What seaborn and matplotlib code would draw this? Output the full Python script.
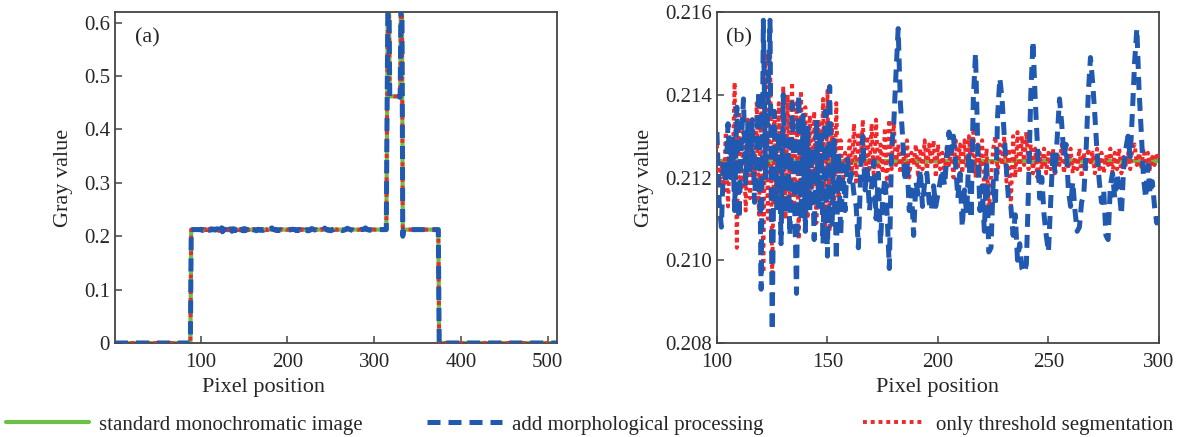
import numpy as np
import pandas as pd
import matplotlib
matplotlib.use("Agg")
import matplotlib.pyplot as plt
import seaborn as sns
from matplotlib.lines import Line2D
from matplotlib.ticker import FuncFormatter

# ---------------- data ----------------
labels = ["standard monochromatic image", "add morphological processing", "only threshold segmentation"]
colors = ["#6cc04a", "#2158b0", "#f0282a"]

# detail region, pixel 100..300
x_detail = np.arange(100, 301)
standard_detail = [0.2124] * 201
morph_detail = [
    0.2131, 0.2114, 0.2108, 0.2124, 0.2119, 0.2133, 0.2120, 0.2130, 0.2112, 0.2137,
    0.2110, 0.2128, 0.2139, 0.2118, 0.2133, 0.2121, 0.2134, 0.2114, 0.2128, 0.2141,
    0.2093, 0.2158, 0.2120, 0.2137, 0.2158, 0.2083, 0.2136, 0.2112, 0.2131, 0.2104,
    0.2140, 0.2111, 0.2129, 0.2106, 0.2138, 0.2118, 0.2092, 0.2140, 0.2110, 0.2135,
    0.2107, 0.2132, 0.2112, 0.2127, 0.2105, 0.2134, 0.2113, 0.2131, 0.2104, 0.2136,
    0.2101, 0.2142, 0.2108, 0.2129, 0.2100, 0.2126, 0.2106, 0.2123, 0.2112, 0.2125,
    0.2119, 0.2121, 0.2116, 0.2113, 0.2103, 0.2121, 0.2130, 0.2117, 0.2122, 0.2112,
    0.2118, 0.2124, 0.2110, 0.2121, 0.2104, 0.2115, 0.2120, 0.2111, 0.2098, 0.2127,
    0.2133, 0.2145, 0.2156, 0.2138, 0.2130, 0.2119, 0.2124, 0.2112, 0.2117, 0.2106,
    0.2119, 0.2116, 0.2122, 0.2113, 0.2119, 0.2121, 0.2114, 0.2112, 0.2118, 0.2113,
    0.2116, 0.2119, 0.2122, 0.2118, 0.2125, 0.2131, 0.2126, 0.2130, 0.2123, 0.2115,
    0.2121, 0.2108, 0.2117, 0.2111, 0.2126, 0.2110, 0.2139, 0.2150, 0.2128, 0.2112,
    0.2118, 0.2107, 0.2124, 0.2102, 0.2103, 0.2119, 0.2113, 0.2135, 0.2144, 0.2139,
    0.2130, 0.2122, 0.2114, 0.2113, 0.2106, 0.2111, 0.2100, 0.2104, 0.2098, 0.2097,
    0.2099, 0.2118, 0.2140, 0.2153, 0.2139, 0.2128, 0.2115, 0.2120, 0.2111, 0.2106,
    0.2102, 0.2114, 0.2126, 0.2121, 0.2130, 0.2139, 0.2133, 0.2125, 0.2128, 0.2117,
    0.2113, 0.2119, 0.2112, 0.2107, 0.2108, 0.2114, 0.2116, 0.2126, 0.2140, 0.2149,
    0.2143, 0.2135, 0.2126, 0.2119, 0.2114, 0.2117, 0.2106, 0.2105, 0.2118, 0.2121,
    0.2115, 0.2121, 0.2117, 0.2111, 0.2122, 0.2127, 0.2130, 0.2125, 0.2136, 0.2148,
    0.2156, 0.2141, 0.2131, 0.2120, 0.2115, 0.2123, 0.2116, 0.2119, 0.2113, 0.2109,
    0.2112,
]
thresh_detail = [
    0.2128, 0.2118, 0.2124, 0.2116, 0.2131, 0.2113, 0.2129, 0.2120, 0.2143, 0.2103,
    0.2136, 0.2117, 0.2131, 0.2112, 0.2134, 0.2115, 0.2128, 0.2119, 0.2138, 0.2111,
    0.2140, 0.2097, 0.2150, 0.2110, 0.2155, 0.2094, 0.2135, 0.2113, 0.2138, 0.2107,
    0.2142, 0.2110, 0.2140, 0.2114, 0.2143, 0.2112, 0.2138, 0.2105, 0.2141, 0.2116,
    0.2137, 0.2110, 0.2135, 0.2113, 0.2136, 0.2109, 0.2134, 0.2115, 0.2139, 0.2108,
    0.2141, 0.2107, 0.2133, 0.2112, 0.2138, 0.2113, 0.2129, 0.2118, 0.2126, 0.2121,
    0.2129, 0.2121, 0.2133, 0.2119, 0.2131, 0.2123, 0.2134, 0.2118, 0.2130, 0.2122,
    0.2133, 0.2119, 0.2134, 0.2120, 0.2128, 0.2121, 0.2132, 0.2117, 0.2134, 0.2122,
    0.2133, 0.2123, 0.2128, 0.2121, 0.2127, 0.2122, 0.2129, 0.2120, 0.2126, 0.2123,
    0.2128, 0.2120, 0.2127, 0.2122, 0.2129, 0.2121, 0.2128, 0.2123, 0.2129, 0.2120,
    0.2128, 0.2122, 0.2126, 0.2121, 0.2128, 0.2123, 0.2127, 0.2120, 0.2129, 0.2122,
    0.2128, 0.2121, 0.2129, 0.2122, 0.2130, 0.2121, 0.2131, 0.2120, 0.2128, 0.2122,
    0.2129, 0.2116, 0.2127, 0.2111, 0.2120, 0.2127, 0.2130, 0.2121, 0.2128, 0.2123,
    0.2130, 0.2119, 0.2127, 0.2113, 0.2130, 0.2120, 0.2131, 0.2121, 0.2130, 0.2123,
    0.2131, 0.2122, 0.2128, 0.2121, 0.2127, 0.2120, 0.2126, 0.2122, 0.2127, 0.2121,
    0.2126, 0.2122, 0.2127, 0.2121, 0.2126, 0.2123, 0.2128, 0.2121, 0.2126, 0.2122,
    0.2127, 0.2121, 0.2125, 0.2122, 0.2127, 0.2120, 0.2126, 0.2122, 0.2127, 0.2123,
    0.2126, 0.2121, 0.2127, 0.2122, 0.2126, 0.2121, 0.2125, 0.2123, 0.2127, 0.2121,
    0.2126, 0.2122, 0.2127, 0.2121, 0.2125, 0.2123, 0.2126, 0.2122, 0.2127, 0.2128,
    0.2123, 0.2126, 0.2122, 0.2127, 0.2123, 0.2126, 0.2122, 0.2125, 0.2123, 0.2126,
    0.2124,
]

# full profile segments (pixel 1..512), shared by the three methods outside the detail region
background_left = [0.0] * 88              # pixels 1..88
plateau_before = [0.2124] * 11            # pixels 89..99
plateau_after = [0.2124] * 14             # pixels 301..314
double_peak = [0.46, 0.66, 0.66, 0.462, 0.462, 0.462, 0.462, 0.462, 0.462,
               0.462, 0.462, 0.462, 0.462, 0.462, 0.462, 0.46, 0.66, 0.66, 0.20]  # 315..333
plateau_tail = [0.2124] * 41              # pixels 334..374
background_right = [0.0] * 138            # pixels 375..512

x_full = np.arange(1, 513)

def full_profile(detail):
    return np.array(background_left + plateau_before + list(detail) + plateau_after
                    + double_peak + plateau_tail + background_right)

series_detail = [standard_detail, morph_detail, thresh_detail]
df_full = pd.concat([pd.DataFrame({"pixel": x_full, "gray": full_profile(d), "method": m})
                     for d, m in zip(series_detail, labels)])
df_detail = pd.concat([pd.DataFrame({"pixel": x_detail, "gray": d, "method": m})
                       for d, m in zip(series_detail, labels)])

# ---------------- style ----------------
sns.set_theme(style="ticks")
plt.rcParams['font.family'] = ['Liberation Serif', 'DejaVu Serif']
plt.rcParams['axes.edgecolor'] = '#444444'
plt.rcParams['axes.linewidth'] = 1.3
plt.rcParams['xtick.direction'] = 'in'
plt.rcParams['ytick.direction'] = 'in'

fig = plt.figure(figsize=(11.79, 4.37), dpi=100)
ax1 = fig.add_axes([0.0975, 0.2151, 0.3750, 0.7574])
ax2 = fig.add_axes([0.6081, 0.2151, 0.3749, 0.7574])

styles = {
    labels[0]: dict(linestyle='-', linewidth=3.0, zorder=2),
    labels[1]: dict(linestyle=(0, (2.6, 1.6)), linewidth=3.6, zorder=4),
    labels[2]: dict(linestyle=(0, (1.0, 1.0)), linewidth=2.8, zorder=3),
}
draw_order = [labels[0], labels[2], labels[1]]

for ax, df in [(ax1, df_full), (ax2, df_detail)]:
    for m in draw_order:
        sub = df[df["method"] == m]
        sns.lineplot(data=sub, x="pixel", y="gray", ax=ax, color=colors[labels.index(m)],
                     estimator=None, sort=False, legend=False, **styles[m])
    ax.set_xlabel("Pixel position", fontsize=16, labelpad=5)
    ax.set_ylabel("Gray value", fontsize=16, labelpad=8)
    ax.tick_params(axis='both', labelsize=15, length=5, width=1.1, color='#444444',
                   top=False, right=False)
    ax.tick_params(axis='x', pad=7)
    for s in ax.spines.values():
        s.set_visible(True)

ax1.set_xlim(1, 511)
ax1.set_ylim(0, 0.62)
ax1.set_xticks([100, 200, 300, 400, 500])
ax1.set_yticks([0, 0.1, 0.2, 0.3, 0.4, 0.5, 0.6])
ax1.yaxis.set_major_formatter(FuncFormatter(lambda v, p: "0" if abs(v) < 1e-9 else f"{v:.1f}"))
ax1.xaxis.set_label_coords(0.335, -0.105)
ax1.text(0.045, 0.95, "(a)", transform=ax1.transAxes, fontsize=16, va='top', ha='left')

ax2.set_xlim(100, 300)
ax2.set_ylim(0.208, 0.216)
ax2.set_xticks([100, 150, 200, 250, 300])
ax2.set_yticks([0.208, 0.210, 0.212, 0.214, 0.216])
ax2.yaxis.set_major_formatter(FuncFormatter(lambda v, p: f"{v:.3f}"))
ax2.xaxis.set_label_coords(0.5, -0.105)
ax2.text(0.02, 0.95, "(b)", transform=ax2.transAxes, fontsize=16, va='top', ha='left')

# bottom legend: three separate entries
legend_specs = [
    (labels[0], 0.003, 4.0, dict(linestyle='-', linewidth=3.0)),
    (labels[1], 0.360, 3.6, dict(linestyle=(0, (2.6, 1.6)), linewidth=3.6)),
    (labels[2], 0.730, 3.0, dict(linestyle=(0, (1.0, 1.0)), linewidth=2.8)),
]
for lab, xpos, hl, st in legend_specs:
    h = Line2D([], [], color=colors[labels.index(lab)], **st)
    fig.legend([h], [lab], loc='center left', bbox_to_anchor=(xpos, 0.028), frameon=False,
               fontsize=15, handlelength=hl, handletextpad=0.5, borderpad=0.1, borderaxespad=0)

fig.savefig("out.png", dpi=100)
